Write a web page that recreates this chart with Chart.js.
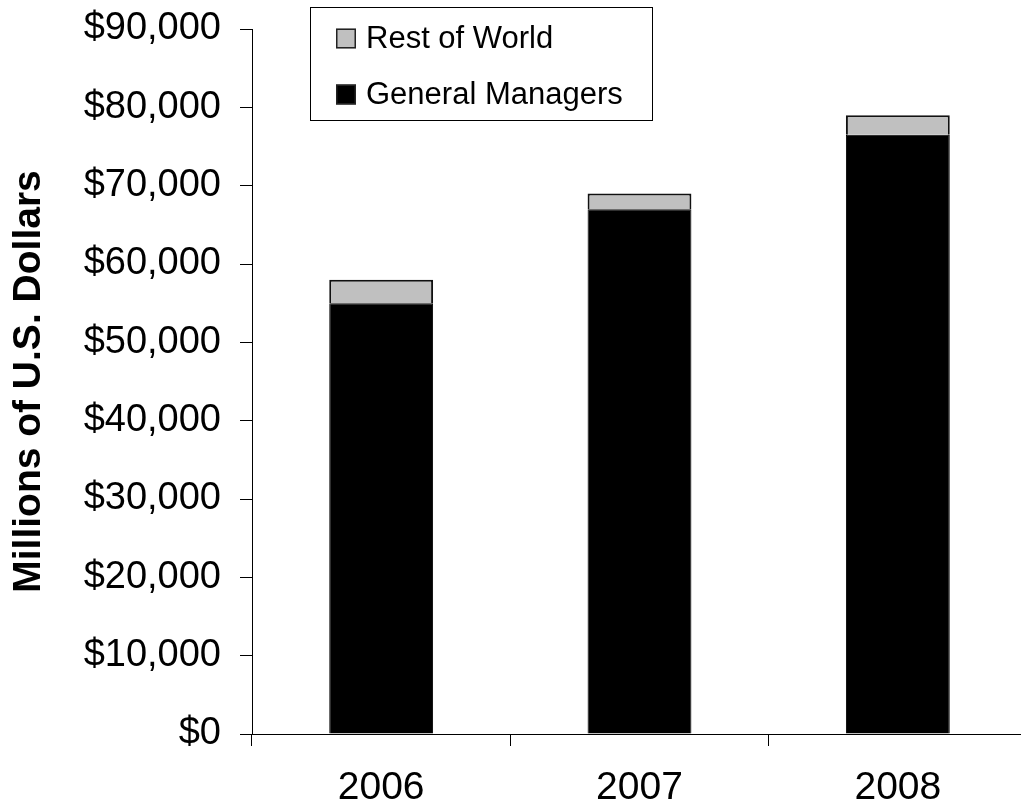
<!DOCTYPE html>
<html>
<head>
<meta charset="utf-8">
<script src="https://cdn.jsdelivr.net/npm/chart.js@4/dist/chart.umd.min.js"></script>
<style>
  html, body { margin: 0; padding: 0; background: #fff; overflow: hidden; }
  #wrap { width: 1021px; height: 808px; overflow: hidden; }
  #box { width: 1030px; height: 808px; }
</style>
</head>
<body>
<div id="wrap"><div id="box"><canvas id="grafico" width="1030" height="808"></canvas></div></div>
<script>
const years = ['2006', '2007', '2008'];
const generalManagers = [55000, 67000, 76500];
const restOfWorld = [3000, 2000, 2500];
const yMax = 90000;
const yStep = 10000;

const FONT = "'Liberation Sans', Arial, sans-serif";

// legend box drawn over the plot, top row = last dataset
const boxLegend = {
  id: 'boxLegend',
  afterDraw(chart) {
    const ctx = chart.ctx;
    ctx.save();
    ctx.strokeStyle = '#000';
    ctx.lineWidth = 1;
    ctx.fillStyle = '#fff';
    ctx.fillRect(310.5, 7.5, 342, 113);
    ctx.strokeRect(310.5, 7.5, 342, 113);

    const sets = chart.data.datasets.slice().reverse();
    sets.forEach((ds, i) => {
      const cy = 38.5 + i * 56;
      ctx.fillStyle = ds.backgroundColor;
      ctx.fillRect(336, cy - 10, 20, 20);
      ctx.strokeStyle = '#222';
      ctx.lineWidth = 1.5;
      ctx.strokeRect(336.75, cy - 9.25, 18.5, 18.5);
      ctx.fillStyle = '#000';
      ctx.font = '31px ' + FONT;
      ctx.textBaseline = 'middle';
      ctx.textAlign = 'left';
      ctx.fillText(ds.label, 366, cy + 1);
    });
    ctx.restore();
  }
};

new Chart(document.getElementById('grafico'), {
  type: 'bar',
  data: {
    labels: years,
    datasets: [
      {
        label: 'General Managers',
        data: generalManagers,
        backgroundColor: '#000000',
        borderColor: '#000000',
        borderWidth: 1
      },
      {
        label: 'Rest of World',
        data: restOfWorld,
        backgroundColor: '#c0c0c0',
        borderColor: '#111111',
        borderWidth: 2
      }
    ]
  },
  options: {
    responsive: false,
    animation: false,
    devicePixelRatio: 1,
    categoryPercentage: 1,
    barPercentage: 0.402,
    layout: { padding: { top: 29, right: 3, left: 0, bottom: 0 } },
    plugins: {
      legend: { display: false },
      tooltip: { enabled: false }
    },
    scales: {
      x: {
        stacked: true,
        afterFit: (scale) => { scale.height = 74; },
        grid: {
          drawOnChartArea: false,
          tickLength: 12,
          color: '#000'
        },
        border: { color: '#000', width: 1 },
        ticks: {
          color: '#000',
          padding: 19,
          font: { family: FONT, size: 39 }
        }
      },
      y: {
        stacked: true,
        min: 0,
        max: yMax,
        afterFit: (scale) => {
          scale.width = 252;
          scale.paddingTop = 0;
        },
        grid: {
          drawOnChartArea: false,
          tickLength: 12,
          color: '#000'
        },
        border: { color: '#000', width: 1 },
        ticks: {
          stepSize: yStep,
          color: '#000',
          padding: 19,
          font: { family: FONT, size: 38 },
          callback: (v) => '$' + v.toLocaleString('en-US')
        },
        title: {
          display: true,
          text: 'Millions of U.S. Dollars',
          color: '#000',
          padding: { top: 6, bottom: 0 },
          font: { family: FONT, size: 39, weight: 'bold' }
        }
      }
    }
  },
  plugins: [boxLegend]
});
</script>
</body>
</html>
